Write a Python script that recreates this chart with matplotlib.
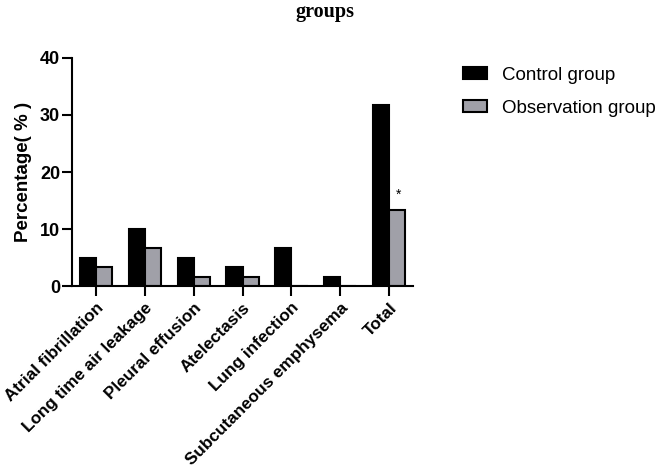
import matplotlib
matplotlib.use("Agg")
import matplotlib.pyplot as plt
import numpy as np

categories = ["Atrial fibrillation", "Long time air leakage", "Pleural effusion",
              "Atelectasis", "Lung infection", "Subcutaneous emphysema", "Total"]
control = [5.0, 10.0, 5.0, 3.33, 6.67, 1.67, 31.67]
observation = [3.33, 6.67, 1.67, 1.67, 0.0, 0.0, 13.33]
series_names = ["Control group", "Observation group"]

plt.rcParams['font.family'] = ['Liberation Sans', 'DejaVu Sans']

fig = plt.figure(figsize=(6.61, 4.70), dpi=100)
ax = fig.add_axes([0.109, 0.391, 0.516, 0.486])

x = np.arange(len(categories))
w = 0.33
lw = 1.5
ax.bar(x - w / 2, control, w, color='black', edgecolor='black', linewidth=lw,
       label=series_names[0])
ax.bar(x + w / 2, observation, w, color='#a0a0a8', edgecolor='black', linewidth=lw,
       label=series_names[1])

ax.text(x[-1] + w / 2 + 0.03, observation[-1] + 2.6, "*", ha='center', va='center', fontsize=10)

ax.set_xlim(-0.49, len(categories) - 0.51)
ax.set_ylim(0, 40)
ax.set_yticks([0, 10, 20, 30, 40])
ax.set_xticks(x)
ax.set_xticklabels(categories, rotation=45, ha='right', rotation_mode='anchor',
                   fontsize=12.3, fontweight='bold')
for lab in ax.get_yticklabels():
    lab.set_fontweight('bold')
    lab.set_fontsize(13)
ax.set_ylabel("Percentage( % )", fontsize=13.5, fontweight='bold')
ax.yaxis.set_label_coords(-0.117, 0.5)

for s in ['top', 'right']:
    ax.spines[s].set_visible(False)
for s in ['left', 'bottom']:
    ax.spines[s].set_linewidth(lw)
ax.tick_params(axis='both', width=lw, length=7, direction='out')
ax.tick_params(axis='y', pad=1.5)
ax.tick_params(axis='x', pad=3)

fig.legend(loc='upper left', bbox_to_anchor=(0.675, 0.894), frameon=False,
           fontsize=13.5, handlelength=1.3, handleheight=0.6, labelspacing=0.85,
           handletextpad=0.8)

fig.text(325 / 661, 1 - 12 / 470, "groups", ha='center', va='center',
         fontsize=14.5, fontweight='bold', family=['Liberation Serif', 'DejaVu Serif'])

fig.savefig("out.png", dpi=100)
